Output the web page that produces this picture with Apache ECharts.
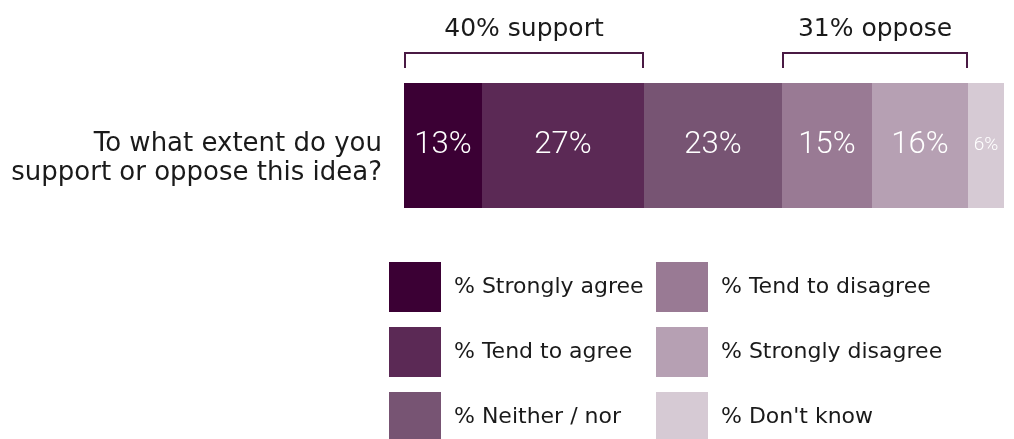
<!DOCTYPE html>
<html>
<head>
<meta charset="utf-8">
<script src="https://cdn.jsdelivr.net/npm/echarts@6/dist/echarts.min.js"></script>
<style>
  html, body { margin: 0; padding: 0; background: #ffffff; }
  #chart { width: 1014px; height: 439px; }
</style>
</head>
<body>
<div id="chart"></div>
<script>
// Survey question and response categories
const question = ['To what extent do you\nsupport or oppose this idea?'];
const responses = ['% Strongly agree', '% Tend to agree', '% Neither / nor',
                   '% Tend to disagree', '% Strongly disagree', "% Don't know"];
const shares = [13, 27, 23, 15, 16, 6];
const colors = ['#3b0034', '#5b2955', '#775473', '#997a94', '#b6a0b3', '#d6cad4'];

// Grouped totals shown with brackets above the bar
const supportIdx = [0, 1];
const opposeIdx = [3, 4];

const sum = idx => idx.reduce((a, i) => a + shares[i], 0);
const startOf = i => shares.slice(0, i).reduce((a, b) => a + b, 0);
const groups = [
  [startOf(supportIdx[0]), startOf(supportIdx[supportIdx.length - 1] + 1), 0, sum(supportIdx) + '% support'],
  [startOf(opposeIdx[0]), startOf(opposeIdx[opposeIdx.length - 1] + 1), 0, sum(opposeIdx) + '% oppose']
];

const FONT = "'DejaVu Sans'";
const NUM_FONT = 'Roboto';
const chart = echarts.init(document.getElementById('chart'));

const barSeries = responses.map((name, i) => ({
  name: name,
  type: 'bar',
  stack: 'total',
  barWidth: '100%',
  data: [shares[i]],
  itemStyle: { color: colors[i] },
  label: {
    show: true,
    position: 'inside',
    formatter: '{c}%',
    color: '#ffffff',
    fontFamily: NUM_FONT,
    fontWeight: 300,
    fontSize: shares[i] < 10 ? 19 : 31
  },
  emphasis: { disabled: true }
}));

const bracketSeries = {
  type: 'custom',
  silent: true,
  data: groups,
  encode: { x: [0, 1], y: 2 },
  renderItem: function (params, api) {
    const s = api.coord([api.value(0), api.value(2)]);
    const e = api.coord([api.value(1), api.value(2)]);
    const band = api.size([0, 1])[1];
    const top = s[1] - band / 2;
    const yLine = top - 30;
    const yFoot = top - 15;
    const stroke = { stroke: '#4a1a44', lineWidth: 2, fill: null };
    return {
      type: 'group',
      children: [
        { type: 'polyline', shape: { points: [[s[0] + 1, yFoot], [s[0] + 1, yLine], [e[0] - 1, yLine], [e[0] - 1, yFoot]] }, style: stroke },
        { type: 'text', x: (s[0] + e[0]) / 2, y: top - 54,
          style: { text: groups[params.dataIndex][3], fill: '#1a1a1a', font: '25px ' + FONT,
                   textAlign: 'center', textVerticalAlign: 'middle' } }
      ]
    };
  }
};

const legendBase = {
  orient: 'vertical',
  icon: 'rect',
  itemWidth: 52,
  itemHeight: 50,
  itemGap: 15,
  height: 200,
  selectedMode: false,
  textStyle: { fontFamily: FONT, fontSize: 22, color: '#1a1a1a', padding: [0, 0, 0, 8] }
};

chart.setOption({
  animation: false,
  grid: { left: 404, right: 10, top: 83, height: 125 },
  xAxis: { type: 'value', min: 0, max: 100, show: false },
  yAxis: {
    type: 'category',
    data: question,
    axisLine: { show: false },
    axisTick: { show: false },
    axisLabel: {
      margin: 22,
      align: 'right',
      // a blank leading line nudges the two-line question below the bar's centre
      formatter: v => '{gap| }\n' + v.split('\n').map(l => '{q|' + l + '}').join('\n'),
      rich: {
        gap: { fontSize: 10, lineHeight: 27 },
        q: { fontFamily: FONT, fontSize: 26, lineHeight: 29, color: '#1a1a1a', align: 'right' }
      }
    }
  },
  legend: [
    Object.assign({}, legendBase, { left: 384, top: 257, data: responses.slice(0, 3) }),
    Object.assign({}, legendBase, { left: 651, top: 257, data: responses.slice(3) })
  ],
  series: barSeries.concat([bracketSeries])
});
</script>
</body>
</html>
